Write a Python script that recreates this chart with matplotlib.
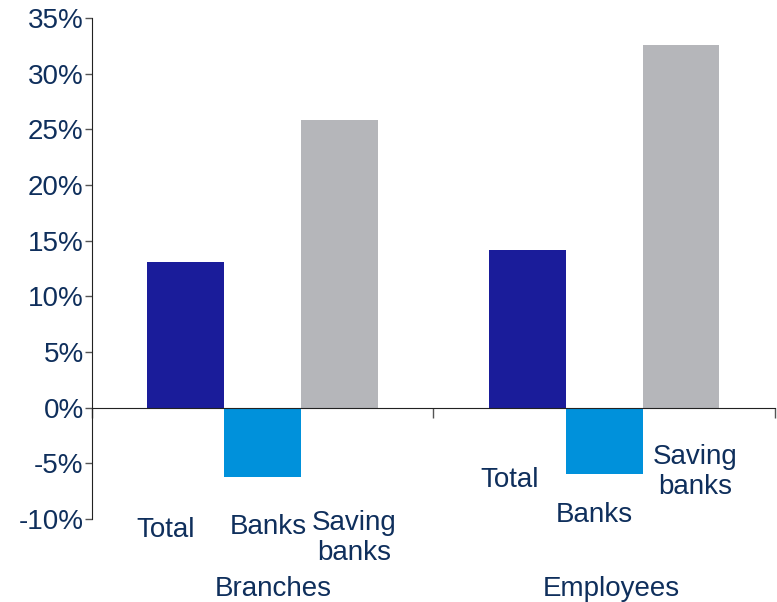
import matplotlib.pyplot as plt
import numpy as np

# growth rates (%) by category and institution type
groups = ['Branches', 'Employees']
series = ['Total', 'Banks', 'Saving banks']
total = [13.1, 14.2]
banks = [-6.2, -6.0]
saving = [25.8, 32.6]
colors = ['#1a1c9a', '#0091db', '#b5b6ba']

# per-bar label text and where Excel had placed them (data coords)
bar_labels = ['Total', 'Banks', 'Saving\nbanks']
label_x = [[0.217, 0.515, 0.767], [1.224, 1.470, 1.766]]
label_y = [[-11.0, -10.7, -11.7], [-6.5, -9.6, -5.8]]

navy = '#0f2f5c'
plt.rcParams['font.family'] = ['Liberation Sans', 'DejaVu Sans']
fs = 20

fig = plt.figure(figsize=(7.77, 6.02), dpi=100)
ax = fig.add_axes([0.1184, 0.1379, 0.879, 0.8322])

width = 0.225
centers = np.array([0.5, 1.5])
for k, vals in enumerate([total, banks, saving]):
    ax.bar(centers + (k - 1) * width, vals, width=width, color=colors[k], zorder=2)

ax.set_xlim(0, 2)
ax.set_ylim(-10, 35)
ax.set_yticks(np.arange(-10, 36, 5))
ax.set_yticklabels([f'{v}%' for v in range(-10, 36, 5)], fontsize=fs, color=navy)
ax.tick_params(axis='y', direction='out', length=5, width=1, color='#555555', pad=1)

ax.spines['top'].set_visible(False)
ax.spines['right'].set_visible(False)
ax.spines['bottom'].set_position(('data', 0))
ax.spines['bottom'].set_color('#222222')
ax.spines['left'].set_color('#222222')
ax.set_xticks([0, 1, 2])
ax.set_xticklabels([])
ax.tick_params(axis='x', direction='out', length=7, width=1, color='#555555')

for g in range(2):
    for k in range(3):
        ax.text(label_x[g][k], label_y[g][k], bar_labels[k], ha='center', va='center',
                fontsize=fs, color=navy, linespacing=1.2, clip_on=False)
    ax.text(centers[g] + (0.03 if g == 0 else 0.02), -16.3, groups[g], ha='center', va='center',
            fontsize=fs, color=navy, clip_on=False)

fig.savefig('out.png', dpi=100)
